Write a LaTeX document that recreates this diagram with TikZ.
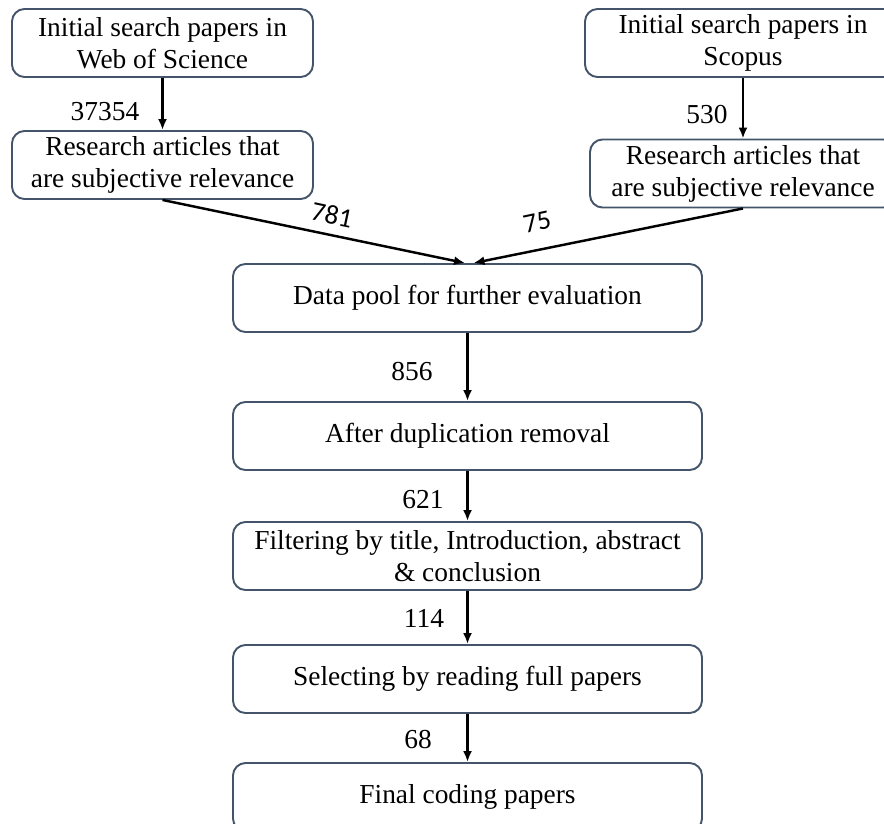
\documentclass[tikz,border=0pt]{standalone}
\usepackage{fontspec}
\setmainfont{Liberation Serif}
\newfontfamily\numfont{Carlito}
\usetikzlibrary{arrows.meta}
\definecolor{boxline}{RGB}{68,84,106}
\tikzset{
  flowbox/.style={draw=boxline,line width=1.1pt,rounded corners=0.25cm,align=center,
    minimum height=1.36cm,inner sep=1pt,font=\fontsize{15.6}{18.2}\selectfont},
  flowarrow/.style={-{Latex[length=0.22cm,width=0.18cm]},line width=1.4pt,black},
  countlabel/.style={font=\fontsize{15.6}{18.2}\selectfont,inner sep=0pt},
  slantlabel/.style={font=\numfont\fontsize{15.5}{18}\selectfont,inner sep=0pt}
}
\begin{document}
\begin{tikzpicture}
\useasboundingbox (0,0) rectangle (17.68,-16.46);
\clip (0,0) rectangle (17.68,-16.46);
% the two databases
\node[flowbox,minimum width=6.02cm] (wos) at (3.25,-0.86) {Initial search papers in\\Web of Science};
\node[flowbox,minimum width=6.02cm] (wosrel) at (3.25,-3.3) {Research articles that\\are subjective relevance};
\node[flowbox,minimum width=6.32cm] (sco) at (14.86,-0.86) {Initial search papers in\\Scopus};
\node[flowbox,minimum width=6.12cm] (scorel) at (14.86,-3.47) {Research articles that\\are subjective relevance};
% the main column
\node[flowbox,minimum width=9.38cm] (pool) at (9.35,-5.96) {Data pool for further evaluation};
\node[flowbox,minimum width=9.38cm] (dedup) at (9.35,-8.72) {After duplication removal};
\node[flowbox,minimum width=9.38cm] (filter) at (9.35,-11.12) {Filtering by title, Introduction, abstract\\\& conclusion};
\node[flowbox,minimum width=9.38cm] (fulltext) at (9.35,-13.58) {Selecting by reading full papers};
\node[flowbox,minimum width=9.38cm] (final) at (9.35,-15.94) {Final coding papers};
\draw[flowarrow] (wos) -- (wosrel);
\draw[flowarrow] (sco) -- (scorel);
\draw[flowarrow] (wosrel.south) -- ([xshift=-0.05cm]pool.north);
\draw[flowarrow] (scorel.south) -- ([xshift=0.12cm]pool.north);
\draw[flowarrow] (pool) -- (dedup);
\draw[flowarrow] (dedup) -- (filter);
\draw[flowarrow] (filter) -- (fulltext);
\draw[flowarrow] (fulltext) -- (final);
% counts
\node[countlabel] (n1) at (2.1,-2.24) {37354};
\node[countlabel] (n2) at (14.14,-2.3) {530};
\node[slantlabel,rotate=-12] (n3) at (6.64,-4.3) {781};
\node[slantlabel,rotate=12] (n4) at (10.74,-4.44) {75};
\node[countlabel] (n5) at (8.24,-7.44) {856};
\node[countlabel] (n6) at (8.46,-10.0) {621};
\node[countlabel] (n7) at (8.48,-12.36) {114};
\node[countlabel] (n8) at (8.36,-14.8) {68};
\end{tikzpicture}
\end{document}
